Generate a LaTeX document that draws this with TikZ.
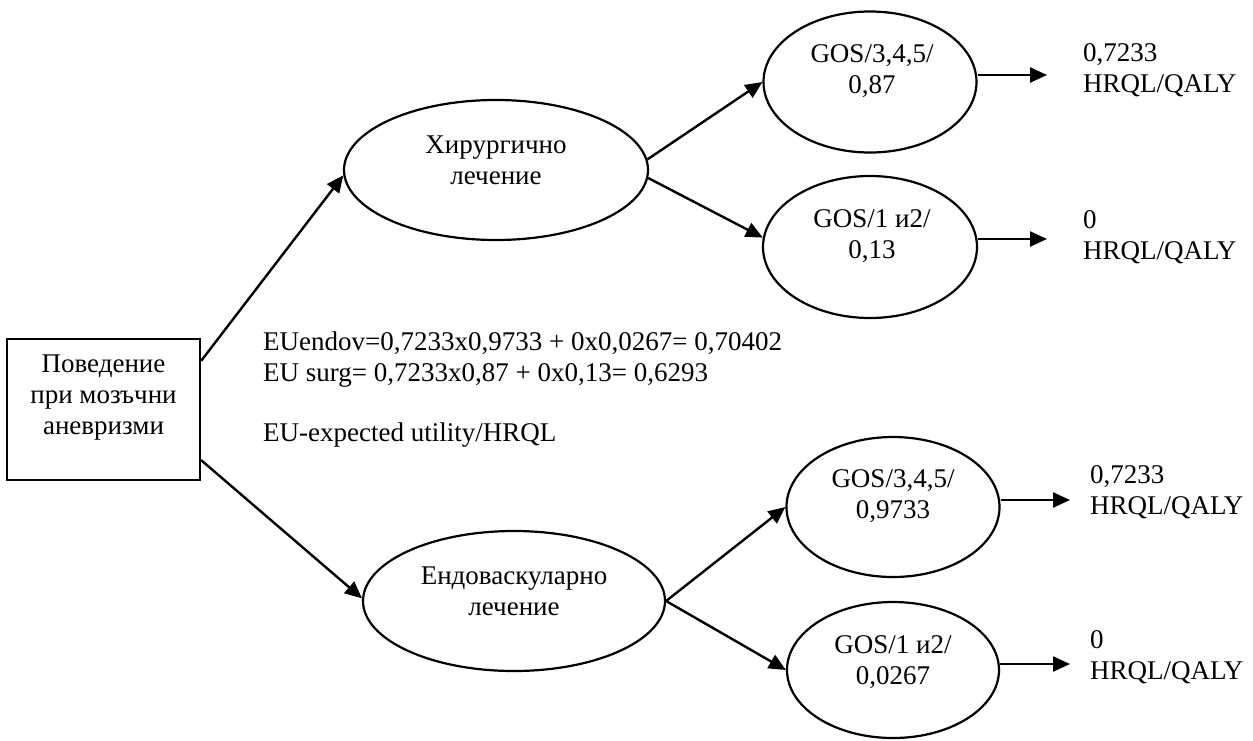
\documentclass[tikz,border=0pt]{standalone}
\usepackage{fontspec}
\setmainfont{Liberation Serif}
\usetikzlibrary{shapes.geometric,arrows.meta,calc}
\begin{document}
\begin{tikzpicture}[x=1pt,y=-1pt,
  shp/.style={draw,line width=2.2pt,inner sep=0pt},
  ell/.style={shp,ellipse},
  txt/.style={inner sep=0pt,font=\fontsize{27}{31}\selectfont,align=center},
  ltxt/.style={inner sep=0pt,font=\fontsize{27}{31}\selectfont,align=left,anchor=west},
  arr/.style={line width=2.4pt,-{Triangle[length=17pt,width=15pt]}}]
\useasboundingbox[fill=white] (0,0) rectangle (1253,740);
% shapes
\node[shp,minimum width=193pt,minimum height=141pt] (box) at (103.5,409.5) {};
\node[ell,minimum width=304pt,minimum height=140pt] (e1) at (496,170) {};
\node[ell,minimum width=302pt,minimum height=140pt] (e2) at (514,601) {};
\node[ell,minimum width=213pt,minimum height=141pt] (s1) at (870,82) {};
\node[ell,minimum width=214pt,minimum height=142pt] (s2) at (870,247) {};
\node[ell,minimum width=213pt,minimum height=140pt] (s3) at (893,507) {};
\node[ell,minimum width=212pt,minimum height=136pt] (s4) at (893,670) {};
% texts
\node[txt] (boxt) at (103.5,397.5) {Поведение\\при мозъчни\\аневризми};
\node[txt] (e1t) at (496,160) {Хирургично\\лечение};
\node[txt] (e2t) at (514,591) {Ендоваскуларно\\лечение};
\node[txt] (s1t) at (872,71) {GOS/3,4,5/\\0,87};
\node[txt] (s2t) at (872,236.5) {GOS/1 и2/\\0,13};
\node[txt] (s3t) at (893,496) {GOS/3,4,5/\\0,9733};
\node[txt] (s4t) at (893,662) {GOS/1 и2/\\0,0267};
\node[ltxt] (o1) at (1083,70) {0,7233\\HRQL/QALY};
\node[ltxt] (o2) at (1083,237.5) {0\\HRQL/QALY};
\node[ltxt] (o3) at (1090,492.5) {0,7233\\HRQL/QALY};
\node[ltxt] (o4) at (1090,657.5) {0\\HRQL/QALY};
\node[ltxt] (form) at (263,360) {EUendov=0,7233x0,9733 + 0x0,0267= 0,70402\\EU surg= 0,7233x0,87 + 0x0,13= 0,6293};
\node[ltxt] (note) at (263,435) {EU-expected utility/HRQL};
% arrow ends
\coordinate (t1) at (1047,75);
\coordinate (t2) at (1047,239);
\coordinate (t3) at (1070,500);
\coordinate (t4) at (1070,664);
% connectors
\draw[arr] ($(box.north east)+(0,23)$) -- (e1.182);
\draw[arr] ($(box.south east)+(0,-21)$) -- (e2.179);
\draw[arr] (e1.4) -- (s1.west);
\draw[arr] (e1.-3) -- (s2.175);
\draw[arr] (e2.east) -- (s3.west);
\draw[arr] (e2.east) -- (s4.west);
\draw[arr] (s1.east |- t1) -- (t1);
\draw[arr] (s2.east |- t2) -- (t2);
\draw[arr] (s3.east |- t3) -- (t3);
\draw[arr] (s4.east |- t4) -- (t4);
\end{tikzpicture}
\end{document}
